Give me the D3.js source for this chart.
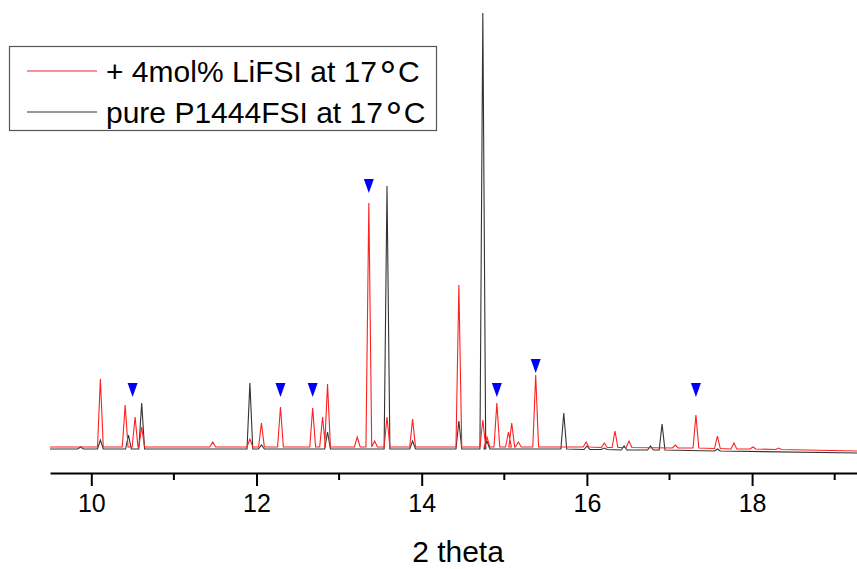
<!DOCTYPE html>
<html>
<head>
<meta charset="utf-8">
<script src="https://cdn.jsdelivr.net/npm/d3@7"></script>
<style>
  body { margin: 0; background: #fff; }
  svg { display: block; font-family: "Liberation Sans", Arial, sans-serif; }
</style>
</head>
<body>
<div id="chart"></div>
<script>
// 2 theta range shown
var xDomain = [9.5, 19.27]
var xTicks = [10, 12, 14, 16, 18]
var xMinorTicks = [11, 13, 15, 17, 19]

// peaks: [2theta, local baseline, top] (arbitrary units)
var redStart = [9.5, 8]
var redEnd = [19.27, 4]
var redPeaks = [
  [10.11, 8, 76], [10.41, 8, 50], [10.53, 8, 38], [10.61, 8, 28],
  [11.47, 8, 13], [11.92, 8, 16], [12.06, 8, 32], [12.29, 8, 48],
  [12.68, 8, 47], [12.80, 8, 38], [12.86, 8, 71], [13.22, 8, 18],
  [13.36, 8, 252], [13.43, 8, 14], [13.58, 8, 38], [13.89, 8, 36],
  [14.45, 8, 170], [14.74, 8, 35], [14.79, 8, 18], [14.91, 8, 52],
  [15.05, 8, 23], [15.09, 8, 32], [15.17, 8, 13], [15.38, 8, 80],
  [15.99, 8, 13], [16.21, 7.5, 12], [16.34, 7.5, 24], [16.51, 7.5, 14],
  [17.07, 7, 10], [17.32, 7, 40], [17.58, 6.5, 19], [17.78, 6, 12],
  [18.01, 6, 8], [18.32, 5.5, 7]
]

var blackStart = [9.5, 6]
var blackEnd = [19.27, 2]
var blackPeaks = [
  [9.87, 6, 8], [10.11, 6, 15], [10.45, 6, 20], [10.61, 6, 52],
  [11.92, 6, 72], [12.06, 6, 10], [12.86, 6, 23], [13.58, 6, 269],
  [13.89, 6, 14], [14.45, 6, 34], [14.74, 6, 442], [14.79, 6, 14],
  [15.72, 6, 42], [16.00, 5.5, 9], [16.21, 5.5, 7], [16.45, 5, 9],
  [16.77, 5, 9], [16.91, 5, 31], [17.58, 4, 6]
]

// blue markers: [2theta, tip height]
var markers = [
  [10.50, 58], [12.29, 58], [12.68, 58], [13.36, 262],
  [14.91, 58], [15.38, 82], [17.32, 58]
]

var legendItems = [
  { label: "+ 4mol% LiFSI at 17", unit: "C", color: "#ff2020" },
  { label: "pure P1444FSI at 17", unit: "C", color: "#333" }
]

var width = 857
var height = 569

var svg = d3.select("#chart").append("svg")
  .attr("width", width)
  .attr("height", height)

var x = d3.scaleLinear().domain(xDomain).range([50, 857])
var y = d3.scaleLinear().domain([0, 442]).range([455, 13])

svg.append("clipPath").attr("id", "plotClip")
  .append("rect").attr("x", 50).attr("y", 0).attr("width", 807).attr("height", 470)

var halfW = 0.035

function pathPoints(start, peaks, end) {
  var pts = [start]
  peaks.forEach(function(p) {
    pts.push([p[0] - halfW, p[1]])
    pts.push([p[0], p[2]])
    pts.push([p[0] + halfW, p[1]])
  })
  pts.push(end)
  return pts
}

var line = d3.line()
  .x(function(d) { return x(d[0]) })
  .y(function(d) { return y(d[1]) })

var plot = svg.append("g").attr("clip-path", "url(#plotClip)")

plot.append("path")
  .datum(pathPoints(blackStart, blackPeaks, blackEnd))
  .attr("fill", "none")
  .attr("stroke", "#333")
  .attr("stroke-width", 1.1)
  .attr("d", line)

plot.append("path")
  .datum(pathPoints(redStart, redPeaks, redEnd))
  .attr("fill", "none")
  .attr("stroke", "#ff2020")
  .attr("stroke-width", 1.1)
  .attr("d", line)

// triangles pointing down
plot.selectAll(".marker")
  .data(markers)
  .enter().append("path")
  .attr("class", "marker")
  .attr("fill", "#0000ff")
  .attr("d", function(d) {
    var cx = x(d[0]), ty = y(d[1])
    return "M" + (cx - 5) + "," + (ty - 14) + "L" + (cx + 5) + "," + (ty - 14) + "L" + cx + "," + ty + "Z"
  })

// x axis
var axisY = 473
var xAxis = svg.append("g").attr("transform", "translate(0," + axisY + ")")
  .call(d3.axisBottom(x).tickValues(xTicks).tickSize(13).tickSizeOuter(0).tickPadding(8).tickFormat(d3.format("d")))

xAxis.select(".domain").attr("stroke", "#000").attr("stroke-width", 2)
xAxis.selectAll(".tick line").attr("stroke", "#000").attr("stroke-width", 2)
xAxis.selectAll(".tick text")
  .attr("fill", "#000")
  .style("font-size", "25px")
  .style("font-family", "Liberation Sans, Arial, sans-serif")

xAxis.selectAll(".minor")
  .data(xMinorTicks)
  .enter().append("line")
  .attr("class", "minor")
  .attr("x1", function(d) { return x(d) })
  .attr("x2", function(d) { return x(d) })
  .attr("y1", 0)
  .attr("y2", 7)
  .attr("stroke", "#000")
  .attr("stroke-width", 2)

svg.append("text")
  .attr("x", 458)
  .attr("y", 562)
  .attr("text-anchor", "middle")
  .style("font-size", "30px")
  .text("2 theta")

// legend
var legend = svg.append("g")
legend.append("rect")
  .attr("x", 9.5).attr("y", 46.5)
  .attr("width", 427).attr("height", 84)
  .attr("fill", "#fff")
  .attr("stroke", "#555")
  .attr("stroke-width", 1.2)

var rows = legend.selectAll(".row")
  .data(legendItems)
  .enter().append("g")
  .attr("transform", function(d, i) { return "translate(0," + (71 + i * 41) + ")" })

rows.append("line")
  .attr("x1", 27).attr("x2", 97)
  .attr("stroke", function(d) { return d.color })
  .attr("stroke-width", 1)

var labels = rows.append("text")
  .attr("x", 106)
  .attr("y", 11)
  .style("font-size", "30px")

labels.append("tspan").text(function(d) { return d.label })
labels.append("tspan")
  .attr("dx", -1)
  .attr("dy", -2)
  .style("font-size", "38px")
  .text("\u2218")
labels.append("tspan")
  .attr("dx", -2)
  .attr("dy", 2)
  .text(function(d) { return d.unit })
</script>
</body>
</html>
